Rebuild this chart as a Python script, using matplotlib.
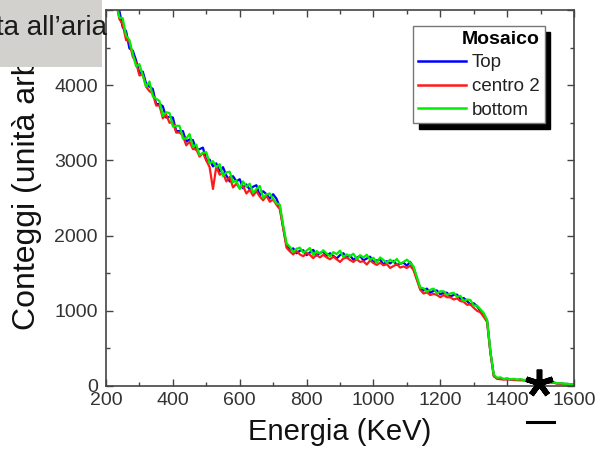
import numpy as np
import matplotlib
matplotlib.use("Agg")
import matplotlib.pyplot as plt
from matplotlib.patches import Rectangle
from matplotlib.lines import Line2D
from matplotlib.ticker import MultipleLocator

plt.rcParams['font.family'] = ['Liberation Sans', 'DejaVu Sans']

# ---------------- data ----------------
energy = list(range(230, 1601, 10))  # KeV channels

top = [
    5070, 4990, 4770, 4720, 4490, 4460, 4330, 4160, 4180, 4020,
    3980, 3950, 3750, 3750, 3720, 3570, 3580, 3570, 3390, 3390,
    3390, 3250, 3280, 3270, 3140, 3150, 3170, 3000, 3010, 2920,
    2960, 2850, 2910, 2800, 2720, 2790, 2720, 2750, 2630, 2680,
    2610, 2650, 2670, 2530, 2590, 2550, 2490, 2550, 2490, 2380,
    2110, 1870, 1810, 1830, 1765, 1800, 1805, 1740, 1775, 1810,
    1735, 1770, 1785, 1730, 1765, 1730, 1695, 1740, 1765, 1710,
    1735, 1680, 1705, 1730, 1670, 1695, 1720, 1645, 1670, 1680,
    1615, 1660, 1630, 1665, 1610, 1625, 1640, 1600, 1650, 1570,
    1430, 1300, 1270, 1295, 1240, 1265, 1270, 1220, 1240, 1240,
    1190, 1210, 1215, 1160, 1170, 1130, 1085, 1100, 1060, 1000,
    950, 870, 450, 140, 100, 95, 90, 98, 86, 84,
    80, 85, 75, 78, 70, 74, 64, 66, 55, 52,
    42, 44, 34, 34, 28, 27, 22, 22,
]

centro2 = [
    5100, 4880, 4810, 4600, 4580, 4380, 4300, 4130, 4140, 3980,
    3920, 3890, 3730, 3730, 3560, 3610, 3500, 3510, 3370, 3370,
    3330, 3200, 3250, 3150, 3150, 3050, 3100, 3000, 2910, 2620,
    2920, 2810, 2830, 2720, 2780, 2640, 2690, 2630, 2660, 2560,
    2610, 2530, 2590, 2520, 2470, 2530, 2450, 2480, 2410, 2350,
    2100, 1840, 1790, 1750, 1795, 1750, 1725, 1770, 1745, 1700,
    1745, 1710, 1745, 1710, 1685, 1720, 1685, 1650, 1695, 1710,
    1675, 1650, 1685, 1650, 1660, 1615, 1670, 1635, 1610, 1640,
    1605, 1620, 1570, 1595, 1620, 1575, 1590, 1570, 1600, 1540,
    1410, 1280, 1230, 1245, 1210, 1225, 1210, 1180, 1210, 1180,
    1180, 1150, 1165, 1130, 1120, 1080, 1085, 1040, 1000, 980,
    920, 850, 440, 130, 95, 90, 88, 85, 90, 80,
    78, 75, 80, 70, 67, 70, 60, 62, 52, 50,
    40, 42, 32, 32, 26, 25, 21, 20,
]

bottom = [
    5120, 4900, 4890, 4660, 4600, 4420, 4250, 4280, 4130, 3980,
    4050, 3850, 3820, 3790, 3590, 3640, 3630, 3450, 3460, 3460,
    3290, 3290, 3350, 3180, 3210, 3070, 3100, 3110, 2960, 2990,
    2910, 2950, 2790, 2840, 2850, 2710, 2730, 2620, 2720, 2650,
    2690, 2570, 2620, 2660, 2500, 2550, 2560, 2490, 2430, 2410,
    2140, 1900, 1850, 1780, 1825, 1840, 1775, 1800, 1835, 1740,
    1795, 1760, 1805, 1760, 1725, 1780, 1755, 1800, 1715, 1750,
    1725, 1760, 1685, 1740, 1710, 1745, 1680, 1705, 1640, 1710,
    1675, 1640, 1680, 1645, 1690, 1625, 1650, 1680, 1640, 1590,
    1450, 1310, 1300, 1255, 1280, 1295, 1230, 1260, 1260, 1210,
    1230, 1240, 1185, 1200, 1130, 1150, 1145, 1070, 1070, 1020,
    970, 880, 460, 150, 110, 115, 95, 100, 90, 96,
    85, 90, 80, 84, 76, 80, 68, 70, 58, 60,
    45, 48, 36, 38, 30, 30, 24, 25,
]

series_names = ["Top", "centro 2", "bottom"]
series_colors = ["#0000ff", "#ff1a1a", "#00ee00"]
legend_title = "Mosaico"
x_label = "Energia (KeV)"
y_label = "Conteggi (unità arb.)"
overlay_text = "ta all\u2019aria"
star_energy = 1495
star_counts = 40

# ---------------- figure ----------------
W, H = 602, 450
fig = plt.figure(figsize=(W / 100, H / 100), dpi=100)
ax = fig.add_axes([106 / W, 64 / H, 468 / W, 376 / H])

for vals, name, col in zip([top, centro2, bottom], series_names, series_colors):
    ax.plot(energy, vals, color=col, lw=1.6, label=name)

ax.set_xlim(200, 1600)
ax.set_ylim(0, 5000)
ax.xaxis.set_major_locator(MultipleLocator(200))
ax.xaxis.set_minor_locator(MultipleLocator(100))
ax.yaxis.set_major_locator(MultipleLocator(1000))
ax.yaxis.set_minor_locator(MultipleLocator(500))
ax.tick_params(which='both', direction='in', top=True, right=True,
               color='#444444', width=1.0)
ax.tick_params(which='major', length=5, labelsize=14, labelcolor='#333333')
ax.tick_params(which='minor', length=3)
ax.tick_params(axis='x', pad=4)
ax.tick_params(axis='y', pad=6)
for sp in ax.spines.values():
    sp.set_color('#444444')
    sp.set_linewidth(1.2)

ax.set_xlabel(x_label, fontsize=21, color='#111111')
ax.xaxis.set_label_coords(0.5, -0.085)
ax.set_ylabel(y_label, fontsize=23, color='#111111')
ax.yaxis.set_label_coords(-0.137, 0.537)

leg = ax.legend(loc='upper left', bbox_to_anchor=(413 / W, 1 - 26 / H),
                bbox_transform=fig.transFigure, title=legend_title,
                title_fontproperties={'weight': 'bold', 'size': 14},
                fontsize=13.5, frameon=True, fancybox=False, borderaxespad=0,
                borderpad=0.25, handlelength=2.6, handletextpad=0.3,
                labelspacing=0.35, alignment='right',
                shadow={'ox': 4, 'oy': -4, 'color': 'black', 'alpha': 1})
leg.get_frame().set_edgecolor('#777777')
leg.get_frame().set_linewidth(1.0)
for t in leg.get_texts():
    t.set_color('#222222')
for h in leg.get_lines():
    h.set_linewidth(1.8)

# star annotation and dash
ax.plot([star_energy], [star_counts], marker=(5, 2, 0), markersize=20,
        markeredgewidth=4, color='black', clip_on=False, zorder=5)
fig.add_artist(Line2D([527 / W, 554 / W], [1 - 422 / H, 1 - 422 / H],
                      transform=fig.transFigure, color='black', lw=2.2))

# grey overlay box from slide
fig.add_artist(Rectangle((0, 1 - 67 / H), 102 / W, 67 / H,
                         transform=fig.transFigure, facecolor='#d3d1ce',
                         edgecolor='none', zorder=10))
fig.text(-4 / W, 1 - 35 / H, overlay_text, fontsize=20, color='#1a1a1a',
         ha='left', va='baseline', zorder=11)

fig.savefig("out.png", dpi=100)
